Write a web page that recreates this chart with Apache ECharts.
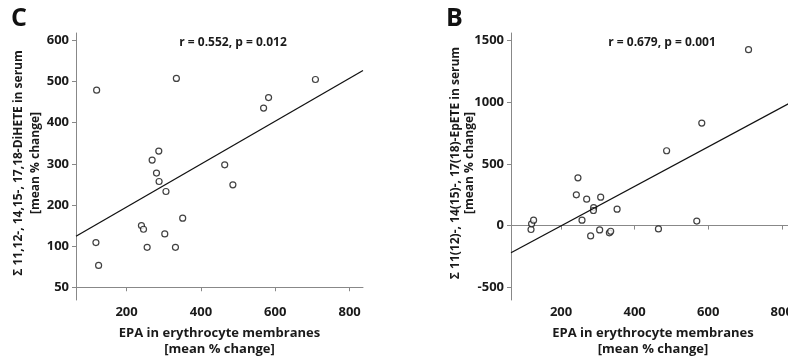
<!DOCTYPE html>
<html style="height: 100%">
<head>
    <meta charset="utf-8">
    <style type="text/css">
        .box{width: 788px;height:358px;}
    </style>
</head>
<body style="height: 100%; margin: 0; background: #fff">
<div class="box" id="container"></div>
<script src="https://cdn.jsdelivr.net/npm/echarts@6/dist/echarts.min.js"></script>
<script type="text/javascript">
    // panel C: EPA vs DiHETE
    var epaC = [119.5, 117.6, 124.8, 334, 708, 568.6, 582, 286.7, 268.8, 280.5,
                287.5, 306, 464, 486, 351, 240, 245.6, 302.8, 255.4, 331.5];
    var diheteC = [479, 108.5, 53, 507.5, 505, 435.5, 461, 331, 309, 277.5,
                   257, 232.7, 297.6, 249, 168, 150, 141, 129.7, 97, 97];
    // panel B: EPA vs EpETE
    var epaB = [709.7, 582.6, 487, 569, 464.8, 246, 241.6, 269.7, 307.8, 288.7,
                288, 352.4, 257, 305, 280.5, 331.4, 335, 118.4, 120, 125.4];
    var epeteB = [1425, 830, 606, 36, -27, 387, 249, 214, 230, 146,
                  122, 133, 44, -35, -84, -59, -46, -32, 14, 44];

    // fitted lines
    var fitC = {intercept: 90.6, slope: 0.522};
    var fitB = {intercept: -322.7, slope: 1.6};

    var xTicks = [200, 400, 600, 800];
    var yTicksC = [0, 100, 200, 300, 400, 500, 600];
    var yLabelsC = ['50', '100', '200', '300', '400', '500', '600'];
    var yTicksB = [-500, 0, 500, 1000, 1500];

    var xRange = [64, 836];

    var FONT = '"Open Sans"';
    var TXT = '#1a1a1a';

    function pairs(xs, ys) {
        var out = [];
        for (var i = 0; i < xs.length; i++) out.push([xs[i], ys[i]]);
        return out;
    }
    function fitLine(f) {
        return xRange.map(function (x) { return [x, f.intercept + f.slope * x]; });
    }
    function plain(v) { return String(v); }

    function xAxis(idx) {
        return {
            type: 'value', gridIndex: idx, min: xRange[0], max: xRange[1],
            name: 'EPA in erythrocyte membranes\n[mean % change]',
            nameLocation: 'middle', nameGap: 25,
            nameTextStyle: {fontFamily: FONT, fontWeight: 'bold', fontSize: 13, color: TXT, lineHeight: 16},
            axisLine: {show: true, lineStyle: {color: '#888', width: 1}},
            axisTick: {show: true, length: 4, customValues: xTicks, lineStyle: {color: '#888'}},
            axisLabel: {customValues: xTicks, fontFamily: FONT, fontWeight: 'bold', fontSize: 13, color: TXT, margin: 6, formatter: plain},
            splitLine: {show: false}
        };
    }

    var scatterStyle = {
        type: 'scatter', symbol: 'circle', symbolSize: 6,
        itemStyle: {color: '#fff', borderColor: '#111', borderWidth: 1.2},
        silent: true
    };
    var lineStyle = {
        type: 'line', symbol: 'none', silent: true,
        lineStyle: {color: '#111', width: 1.3}
    };

    var dom = document.getElementById("container");
    var chart = echarts.init(dom);
    var option = {
        backgroundColor: '#fff',
        animation: false,
        grid: [
            {left: 76, top: 33, width: 287, height: 267, outerBoundsMode: 'none', containLabel: false},
            {left: 511, top: 33, width: 284, height: 267, outerBoundsMode: 'none', containLabel: false}
        ],
        xAxis: [xAxis(0), xAxis(1)],
        yAxis: [
            {
                type: 'value', gridIndex: 0, min: -31, max: 618,
                axisLine: {show: true, lineStyle: {color: '#888', width: 1}},
                axisTick: {show: true, length: 4, customValues: yTicksC, lineStyle: {color: '#888'}},
                axisLabel: {
                    customValues: yTicksC, fontFamily: FONT, fontWeight: 'bold', fontSize: 13, color: TXT, margin: 7,
                    formatter: function (v) { return yLabelsC[yTicksC.indexOf(v)]; }
                },
                splitLine: {show: false}
            },
            {
                type: 'value', gridIndex: 1, min: -603, max: 1560,
                axisLine: {show: true, lineStyle: {color: '#888', width: 1}},
                axisTick: {show: true, length: 4, customValues: yTicksB, lineStyle: {color: '#888'}},
                axisLabel: {customValues: yTicksB, fontFamily: FONT, fontWeight: 'bold', fontSize: 13, color: TXT, margin: 7, formatter: plain},
                splitLine: {show: false}
            }
        ],
        series: [
            Object.assign({}, lineStyle, {xAxisIndex: 0, yAxisIndex: 0, data: fitLine(fitC)}),
            Object.assign({}, scatterStyle, {xAxisIndex: 0, yAxisIndex: 0, data: pairs(epaC, diheteC)}),
            Object.assign({}, lineStyle, {xAxisIndex: 1, yAxisIndex: 1, data: fitLine(fitB)}),
            Object.assign({}, scatterStyle, {xAxisIndex: 1, yAxisIndex: 1, data: pairs(epaB, epeteB)})
        ],
        graphic: [
            {type: 'text', left: 11, top: 6, style: {text: 'C', font: 'bold 25px ' + FONT, fill: '#111'}},
            {type: 'text', left: 446, top: 6, style: {text: 'B', font: 'bold 25px ' + FONT, fill: '#111'}},
            {type: 'text', x: 233, y: 43, style: {text: 'r = 0.552, p = 0.012', font: 'bold 12px ' + FONT, fill: TXT, align: 'center', verticalAlign: 'middle'}},
            {type: 'text', x: 662, y: 43, style: {text: 'r = 0.679, p = 0.001', font: 'bold 12px ' + FONT, fill: TXT, align: 'center', verticalAlign: 'middle'}},
            {type: 'text', x: 27.5, y: 163, rotation: Math.PI / 2,
             style: {text: 'Σ 11,12-, 14,15-, 17,18-DiHETE in serum\n[mean % change]', font: 'bold 12px ' + FONT, lineHeight: 17, fill: TXT, align: 'center', verticalAlign: 'middle'}},
            {type: 'text', x: 462.5, y: 163, rotation: Math.PI / 2,
             style: {text: 'Σ 11(12)-, 14(15)-, 17(18)-EpETE in serum\n[mean % change]', font: 'bold 12px ' + FONT, lineHeight: 14, fill: TXT, align: 'center', verticalAlign: 'middle'}}
        ]
    };
    chart.setOption(option);
</script>
</body>
</html>
